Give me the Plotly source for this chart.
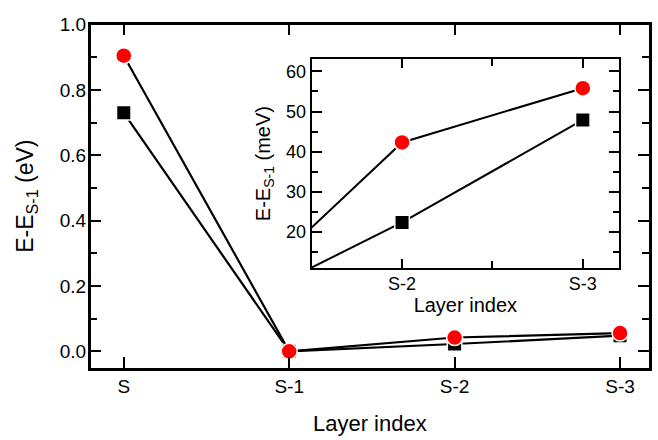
import plotly.graph_objects as go

# ---- data ----
layers = ["S", "S-1", "S-2", "S-3"]
layer_pos = [0, 1, 2, 3]
red_eV = [0.905, 0.0, 0.0423, 0.0558]
black_eV = [0.730, 0.0, 0.0224, 0.0479]
red_meV = [v * 1000 for v in red_eV]
black_meV = [v * 1000 for v in black_eV]
main_yticks = [0.0, 0.2, 0.4, 0.6, 0.8, 1.0]

FONT = "Liberation Sans, Arial, sans-serif"

fig = go.Figure()

def add_series(xa, ya, ys_black, ys_red, lw):
    fig.add_trace(go.Scatter(
        x=layer_pos, y=ys_black, mode="lines+markers", xaxis=xa, yaxis=ya,
        line=dict(color="black", width=lw),
        marker=dict(symbol="square", size=14.5, color="black",
                    line=dict(color="white", width=1.5)),
        showlegend=False))
    fig.add_trace(go.Scatter(
        x=layer_pos, y=ys_red, mode="lines+markers", xaxis=xa, yaxis=ya,
        line=dict(color="black", width=lw),
        marker=dict(symbol="circle", size=16, color="#ff0000",
                    line=dict(color="white", width=1.5)),
        showlegend=False))

add_series("x", "y", black_eV, red_eV, 2.2)
add_series("x2", "y2", black_meV, red_meV, 2.0)

TC = "black"
ax_common = dict(showline=True, linecolor="black", mirror="allticks",
                 ticks="inside", tickcolor=TC, showgrid=False,
                 zeroline=False)

fig.update_layout(
    width=658, height=440,
    margin=dict(l=0, r=0, t=0, b=0),
    paper_bgcolor="white", plot_bgcolor="white",
    font=dict(family=FONT, size=19, color="black"),
    xaxis=dict(**ax_common, domain=[0.1378, 0.9863], range=[-0.2, 3.175],
               tickmode="array", tickvals=layer_pos, ticktext=layers,
               ticklen=11, tickwidth=2.2, linewidth=2.5,
               tickfont=dict(size=19, color="black"),
               title=dict(text="Layer index", font=dict(size=22), standoff=20)),
    yaxis=dict(**ax_common, domain=[0.1682, 0.9659], range=[-0.05, 1.0],
               tickmode="array", tickvals=main_yticks, tickformat=".1f",
               ticklen=11, tickwidth=2.2, linewidth=2.5,
               minor=dict(dtick=0.1, tick0=0, ticklen=7, tickwidth=2.2,
                          ticks="inside", tickcolor=TC),
               tickfont=dict(size=19, color="black"), ticklabelstandoff=-2,
               title=dict(text="E-E<sub>S-1</sub> (eV)", font=dict(size=23),
                          standoff=20)),
    xaxis2=dict(**ax_common, anchor="y2", domain=[0.4737, 0.9407],
                range=[1.5, 3.2],
                tickmode="array", tickvals=[2, 3], ticktext=["S-2", "S-3"],
                ticklen=9, tickwidth=2, linewidth=2,
                minor=dict(tickmode="array", tickvals=[2.5], ticklen=7,
                           tickwidth=2, ticks="inside", tickcolor=TC),
                tickfont=dict(size=18, color="black"), ticklabelstandoff=-2,
                title=dict(text="Layer index", font=dict(size=20), standoff=0)),
    yaxis2=dict(**ax_common, anchor="x2", domain=[0.3993, 0.8864],
                range=[11, 63.1], dtick=10, tick0=0,
                ticklen=10, tickwidth=2, linewidth=2,
                minor=dict(dtick=5, tick0=0, ticklen=6, tickwidth=2,
                           ticks="inside", tickcolor=TC),
                tickfont=dict(size=18, color="black"),
                title=dict(text="E-E<sub>S-1</sub> (meV)", font=dict(size=20),
                           standoff=10)),
)

fig.write_html("out.html")
